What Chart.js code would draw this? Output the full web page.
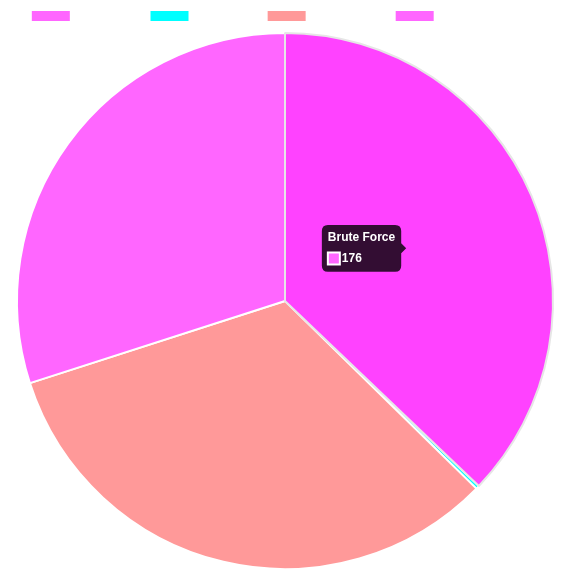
<!DOCTYPE html>
<html>
<head>
<meta charset="utf-8">
<script src="https://cdn.jsdelivr.net/npm/chart.js@4"></script>
<style>
html,body{margin:0;padding:0;background:#fff;}
#wrap{width:570px;height:570px;}
</style>
</head>
<body>
<div id="wrap"><canvas id="c"></canvas></div>
<script>
const categories = ["Brute Force", "Web Attack", "SQL Injection", "Web Attack – XSS"];
const counts = [176, 1, 155, 142];
const sliceColors = ["#ff66ff", "#00ffff", "#ff9999", "#ff66ff"];

const chart = new Chart(document.getElementById('c'), {
  type: 'pie',
  data: {
    labels: categories,
    datasets: [{
      data: counts,
      backgroundColor: sliceColors
    }]
  },
  options: {
    responsive: true,
    maintainAspectRatio: false,
    animation: false,
    plugins: {
      legend: {
        labels: { color: '#ffffff', font: { size: 12 } }
      },
      tooltip: { enabled: true, bodyFont: { weight: 'bold' } }
    }
  }
});
const act = [{datasetIndex: 0, index: 0}];
chart.setActiveElements(act);
chart.tooltip.setActiveElements(act, {x: 408, y: 247});
chart.update('none');
</script>
</body>
</html>
